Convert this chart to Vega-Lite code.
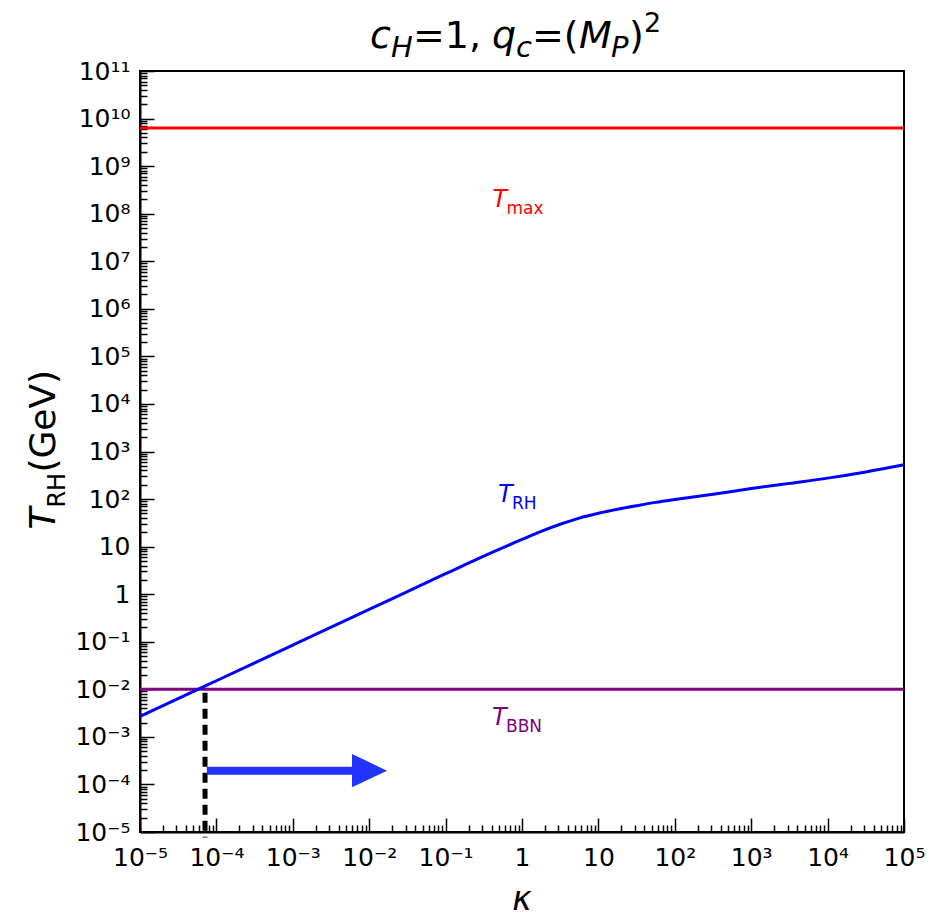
{
  "$schema": "https://vega.github.io/schema/vega-lite/v6.json",
  "width": 764,
  "height": 761,
  "autosize": {"type": "none"},
  "padding": {"left": 140, "top": 71, "right": 42, "bottom": 89},
  "background": "white",
  "config": {"view": {"stroke": "black", "strokeWidth": 2}, "font": "DejaVu Sans"},
  "datasets": {
    "curve": [
      {"k": 1e-5, "T": 0.002692}, {"k": 1e-4, "T": 0.01514}, {"k": 1e-3, "T": 0.08511},
      {"k": 0.01, "T": 0.4786}, {"k": 0.1, "T": 2.692}, {"k": 0.3162, "T": 6.31},
      {"k": 1, "T": 14.13}, {"k": 1.778, "T": 20.89}, {"k": 3.162, "T": 29.51},
      {"k": 5.623, "T": 39.81}, {"k": 10, "T": 50.12}, {"k": 17.78, "T": 60.95},
      {"k": 31.62, "T": 72.44}, {"k": 56.23, "T": 85.11}, {"k": 100, "T": 97.72},
      {"k": 316.2, "T": 125.9}, {"k": 1000, "T": 166.0}, {"k": 3162, "T": 213.8},
      {"k": 10000, "T": 275.4}, {"k": 31623, "T": 371.5}, {"k": 100000, "T": 524.8}
    ],
    "labels": [
      {"k": 0.41, "T": 1.38e8, "name": "max", "main": "T", "sub": "max"},
      {"k": 0.485, "T": 88, "name": "RH", "main": "T", "sub": "RH"},
      {"k": 0.405, "T": 0.00182, "name": "BBN", "main": "T", "sub": "BBN"}
    ]
  },
  "encoding": {
    "x": {"field": "k", "type": "quantitative", "scale": {"type": "log", "domain": [1e-5, 1e5]}, "axis": null},
    "y": {"field": "T", "type": "quantitative", "scale": {"type": "log", "domain": [1e-5, 1e11]}, "axis": null}
  },
  "layer": [
    {"data": {"values": [{"k": 1e-5, "T": 6.3e9}, {"k": 1e5, "T": 6.3e9}]},
     "mark": {"type": "line", "color": "#ff0000", "strokeWidth": 3},
     "encoding": {
       "x": {"field": "k", "type": "quantitative", "scale": {"type": "log", "domain": [1e-5, 1e5]},
         "axis": {"orient": "bottom", "title": null, "grid": false,
           "values": [1e-5, 1e-4, 0.001, 0.01, 0.1, 1, 10, 100, 1000, 10000, 100000],
           "labelExpr": "['10⁻⁵','10⁻⁴','10⁻³','10⁻²','10⁻¹','1','10','10²','10³','10⁴','10⁵'][round(log(datum.value)/LN10)+5]",
           "tickSize": -14, "tickColor": "black", "tickWidth": 1.5,
           "domainColor": "black", "domainWidth": 2,
           "labelFontSize": 25, "labelColor": "black", "labelFont": "DejaVu Sans",
           "labelPadding": 27, "labelOverlap": false, "labelFlush": false, "labelBound": false}},
       "y": {"field": "T", "type": "quantitative", "scale": {"type": "log", "domain": [1e-5, 1e11]},
         "axis": {"orient": "left", "title": null, "grid": false,
           "values": [1e-5, 1e-4, 0.001, 0.01, 0.1, 1, 10, 100, 1000, 1e4, 1e5, 1e6, 1e7, 1e8, 1e9, 1e10, 1e11],
           "labelExpr": "['10⁻⁵','10⁻⁴','10⁻³','10⁻²','10⁻¹','1','10','10²','10³','10⁴','10⁵','10⁶','10⁷','10⁸','10⁹','10¹⁰','10¹¹'][round(log(datum.value)/LN10)+5]",
           "tickSize": -14, "tickColor": "black", "tickWidth": 1.5,
           "domainColor": "black", "domainWidth": 2,
           "labelFontSize": 25, "labelColor": "black", "labelFont": "DejaVu Sans",
           "labelPadding": 24, "labelOverlap": false, "labelBound": false}}
     }},
    {"data": {"values": [{"k": 1e-5, "T": 0.01}, {"k": 1e5, "T": 0.01}]},
     "mark": {"type": "line", "color": "#800080", "strokeWidth": 3},
     "encoding": {
       "x": {"field": "k", "type": "quantitative", "scale": {"type": "log", "domain": [1e-5, 1e5]},
         "axis": {"orient": "bottom", "title": null, "grid": false, "labels": false, "domain": false,
           "values": [2e-5,3e-5,4e-5,5e-5,6e-5,7e-5,8e-5,9e-5,2e-4,3e-4,4e-4,5e-4,6e-4,7e-4,8e-4,9e-4,0.002,0.003,0.004,0.005,0.006,0.007,0.008,0.009,0.02,0.03,0.04,0.05,0.06,0.07,0.08,0.09,0.2,0.3,0.4,0.5,0.6,0.7,0.8,0.9,2,3,4,5,6,7,8,9,20,30,40,50,60,70,80,90,200,300,400,500,600,700,800,900,2000,3000,4000,5000,6000,7000,8000,9000,20000,30000,40000,50000,60000,70000,80000,90000],
           "tickSize": -7, "tickColor": "black", "tickWidth": 1.5}},
       "y": {"field": "T", "type": "quantitative", "scale": {"type": "log", "domain": [1e-5, 1e11]},
         "axis": {"orient": "left", "title": null, "grid": false, "labels": false, "domain": false,
           "values": [2e-5,3e-5,4e-5,5e-5,6e-5,7e-5,8e-5,9e-5,2e-4,3e-4,4e-4,5e-4,6e-4,7e-4,8e-4,9e-4,0.002,0.003,0.004,0.005,0.006,0.007,0.008,0.009,0.02,0.03,0.04,0.05,0.06,0.07,0.08,0.09,0.2,0.3,0.4,0.5,0.6,0.7,0.8,0.9,2,3,4,5,6,7,8,9,20,30,40,50,60,70,80,90,200,300,400,500,600,700,800,900,2000,3000,4000,5000,6000,7000,8000,9000,2e4,3e4,4e4,5e4,6e4,7e4,8e4,9e4,2e5,3e5,4e5,5e5,6e5,7e5,8e5,9e5,2e6,3e6,4e6,5e6,6e6,7e6,8e6,9e6,2e7,3e7,4e7,5e7,6e7,7e7,8e7,9e7,2e8,3e8,4e8,5e8,6e8,7e8,8e8,9e8,2e9,3e9,4e9,5e9,6e9,7e9,8e9,9e9,2e10,3e10,4e10,5e10,6e10,7e10,8e10,9e10],
           "tickSize": -7, "tickColor": "black", "tickWidth": 1.5}}
     }},
    {"data": {"name": "curve"},
     "mark": {"type": "line", "color": "#0000ff", "strokeWidth": 3, "interpolate": "monotone"}},
    {"data": {"values": [{"k": 7.1e-5, "T": 0.0085, "T2": 7.7e-6}]},
     "mark": {"type": "rule", "color": "black", "strokeWidth": 5, "strokeDash": [10, 6]},
     "encoding": {"y2": {"field": "T2"}}},
    {"data": {"values": [{"k": 7.5e-5, "k2": 0.0065, "T": 1.95e-4}]},
     "mark": {"type": "rule", "color": "#2233ff", "strokeWidth": 8},
     "encoding": {"x2": {"field": "k2"}}},
    {"data": {"values": [{"k": 0.0101, "T": 1.95e-4}]},
     "mark": {"type": "point", "shape": "M-1,-0.95L1,0L-1,0.95Z", "filled": true, "size": 1225, "color": "#2233ff", "opacity": 1}},
    {"data": {"name": "labels"},
     "mark": {"type": "text", "align": "left", "baseline": "alphabetic", "fontSize": 24, "fontStyle": "italic"},
     "encoding": {"text": {"field": "main"},
       "color": {"field": "name", "type": "nominal", "scale": {"domain": ["max", "RH", "BBN"], "range": ["#ff0000", "#0000ff", "#800080"]}, "legend": null}}},
    {"data": {"name": "labels"},
     "mark": {"type": "text", "align": "left", "baseline": "alphabetic", "fontSize": 17, "dx": 14, "dy": 7},
     "encoding": {"text": {"field": "sub"},
       "color": {"field": "name", "type": "nominal", "scale": {"domain": ["max", "RH", "BBN"], "range": ["#ff0000", "#0000ff", "#800080"]}, "legend": null}}},
    {"data": {"values": [{"k": 1, "T": 3e11, "s": "c"}]},
     "mark": {"type": "text", "align": "left", "baseline": "alphabetic", "fontSize": 38, "fontStyle": "italic", "dx": -152, "color": "black"},
     "encoding": {"text": {"field": "s"}}},
    {"data": {"values": [{"k": 1, "T": 3e11, "s": "H"}]},
     "mark": {"type": "text", "align": "left", "baseline": "alphabetic", "fontSize": 29, "fontStyle": "italic", "dx": -131, "dy": 9, "color": "black"},
     "encoding": {"text": {"field": "s"}}},
    {"data": {"values": [{"k": 1, "T": 3e11, "s": "=1, "}]},
     "mark": {"type": "text", "align": "left", "baseline": "alphabetic", "fontSize": 38, "dx": -109, "color": "black"},
     "encoding": {"text": {"field": "s"}}},
    {"data": {"values": [{"k": 1, "T": 3e11, "s": "q"}]},
     "mark": {"type": "text", "align": "left", "baseline": "alphabetic", "fontSize": 38, "fontStyle": "italic", "dx": -30, "color": "black"},
     "encoding": {"text": {"field": "s"}}},
    {"data": {"values": [{"k": 1, "T": 3e11, "s": "c"}]},
     "mark": {"type": "text", "align": "left", "baseline": "alphabetic", "fontSize": 29, "fontStyle": "italic", "dx": -6, "dy": 9, "color": "black"},
     "encoding": {"text": {"field": "s"}}},
    {"data": {"values": [{"k": 1, "T": 3e11, "s": "=("}]},
     "mark": {"type": "text", "align": "left", "baseline": "alphabetic", "fontSize": 38, "dx": 10, "color": "black"},
     "encoding": {"text": {"field": "s"}}},
    {"data": {"values": [{"k": 1, "T": 3e11, "s": "M"}]},
     "mark": {"type": "text", "align": "left", "baseline": "alphabetic", "fontSize": 38, "fontStyle": "italic", "dx": 57, "color": "black"},
     "encoding": {"text": {"field": "s"}}},
    {"data": {"values": [{"k": 1, "T": 3e11, "s": "P"}]},
     "mark": {"type": "text", "align": "left", "baseline": "alphabetic", "fontSize": 29, "fontStyle": "italic", "dx": 89, "dy": 9, "color": "black"},
     "encoding": {"text": {"field": "s"}}},
    {"data": {"values": [{"k": 1, "T": 3e11, "s": ")"}]},
     "mark": {"type": "text", "align": "left", "baseline": "alphabetic", "fontSize": 38, "dx": 107, "color": "black"},
     "encoding": {"text": {"field": "s"}}},
    {"data": {"values": [{"k": 1, "T": 3e11, "s": "2"}]},
     "mark": {"type": "text", "align": "left", "baseline": "alphabetic", "fontSize": 27, "dx": 122, "dy": -16, "color": "black"},
     "encoding": {"text": {"field": "s"}}},
    {"data": {"values": [{"k": 7.7e-7, "T": 22.8, "s": "T"}]},
     "mark": {"type": "text", "align": "left", "baseline": "alphabetic", "fontSize": 36, "fontStyle": "italic", "angle": 270, "color": "black"},
     "encoding": {"text": {"field": "s"}}},
    {"data": {"values": [{"k": 7.7e-7, "T": 22.8, "s": "RH"}]},
     "mark": {"type": "text", "align": "left", "baseline": "alphabetic", "fontSize": 24, "angle": 270, "dx": 22, "dy": 10, "color": "black"},
     "encoding": {"text": {"field": "s"}}},
    {"data": {"values": [{"k": 7.7e-7, "T": 22.8, "s": "(GeV)"}]},
     "mark": {"type": "text", "align": "left", "baseline": "alphabetic", "fontSize": 36, "angle": 270, "dx": 57, "color": "black"},
     "encoding": {"text": {"field": "s"}}},
    {"data": {"values": [{"k": 1, "T": 2.3e-7, "s": "κ"}]},
     "mark": {"type": "text", "align": "center", "baseline": "alphabetic", "fontSize": 33, "fontStyle": "italic", "color": "black"},
     "encoding": {"text": {"field": "s"}}}
  ],
  "resolve": {"axis": {"x": "independent", "y": "independent"}}
}
